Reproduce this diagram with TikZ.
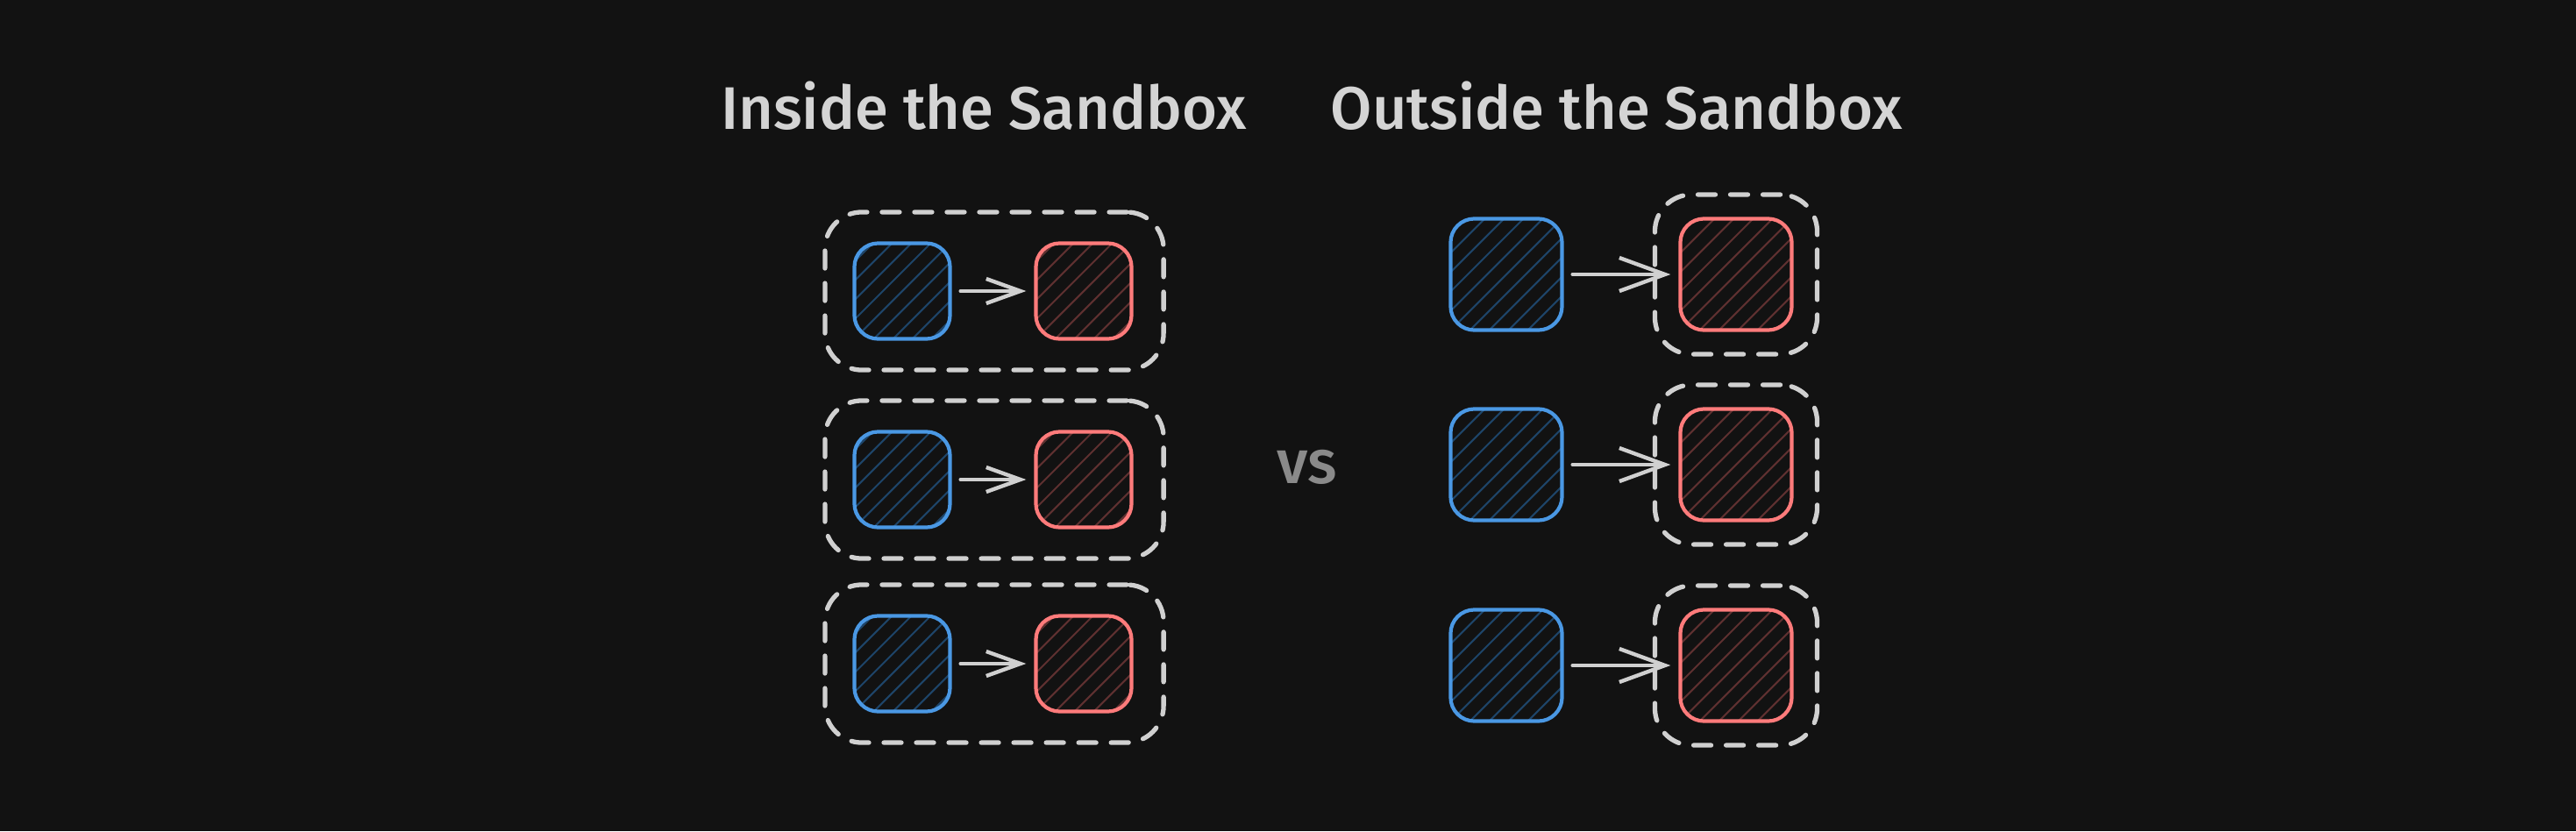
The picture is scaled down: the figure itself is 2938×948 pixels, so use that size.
\documentclass[tikz,border=0pt]{standalone}
\usepackage{fontspec}
\setmainfont{Fira Sans Medium}
\usetikzlibrary{arrows.meta}
\definecolor{bgdark}{HTML}{121212}
\definecolor{srcblue}{HTML}{4A98E4}
\definecolor{srchatch}{HTML}{1E4468}
\definecolor{dstred}{HTML}{FF7B7B}
\definecolor{dsthatch}{HTML}{5E3030}
\definecolor{linegray}{HTML}{D0D0D0}
\definecolor{titlegray}{HTML}{D4D4D4}
\definecolor{vsgray}{HTML}{8A8A8A}
\tikzset{
	hatched/.style={path picture={\foreach \k in {-8,...,8} {\draw[#1, line width=0.6pt] ([xshift=\k*0.22cm]path picture bounding box.south west) -- ++(45:2.4cm);}}},
	srcbox/.style={draw=srcblue, line width=1.2pt, rounded corners=0.27cm, hatched=srchatch, minimum size=#1, inner sep=0pt},
	dstbox/.style={draw=dstred, line width=1.2pt, rounded corners=0.27cm, hatched=dsthatch, minimum size=#1, inner sep=0pt},
	sandbox/.style={draw=linegray, line width=1.5pt, dash pattern=on 0.2cm off 0.17cm, line cap=round, rounded corners=0.42cm, inner sep=0pt},
	flow/.style={draw=linegray, line width=1.25pt, line cap=round, shorten <=0.1cm, shorten >=0.09cm}
}
\begin{document}
\begin{tikzpicture}[x=0.01cm, y=-0.01cm, every node/.style={font=\fontsize{19.5}{23}\selectfont, text=titlegray}]
	\fill[bgdark] (0,0) rectangle (2938,948);
	\useasboundingbox (0,0) rectangle (2938,948);
	\node[anchor=base] (insideT) at (1122,147) {Inside the Sandbox};
	\node[anchor=base] (outsideT) at (1844,147) {Outside the Sandbox};
	\node[text=vsgray, font=\fontsize{20}{24}\selectfont] (vs) at (1491,533) {vs};
	% inside: every pair in its own sandbox
	\foreach \r/\y in {1/332, 2/547, 3/757} {
		\node[sandbox, minimum width=3.86cm, minimum height=1.8cm] (sbL\r) at (1134,\y) {};
		\node[srcbox=1.09cm] (srcL\r) at (1029,\y) {};
		\node[dstbox=1.09cm] (dstL\r) at (1236,\y) {};
		\draw[flow, -{Straight Barb[length=0.39cm, width=0.28cm]}] (srcL\r) -- (dstL\r);
	}
	% outside: only the target is sandboxed
	\foreach \r/\y in {1/313, 2/530, 3/759} {
		\node[sandbox, minimum width=1.85cm, minimum height=1.82cm] (sbR\r) at (1980,\y) {};
		\node[srcbox=1.27cm] (srcR\r) at (1718,\y) {};
		\node[dstbox=1.27cm] (dstR\r) at (1980,\y) {};
		\draw[flow, -{Straight Barb[length=0.52cm, width=0.38cm]}] (srcR\r) -- (dstR\r);
	}
\end{tikzpicture}
\end{document}
